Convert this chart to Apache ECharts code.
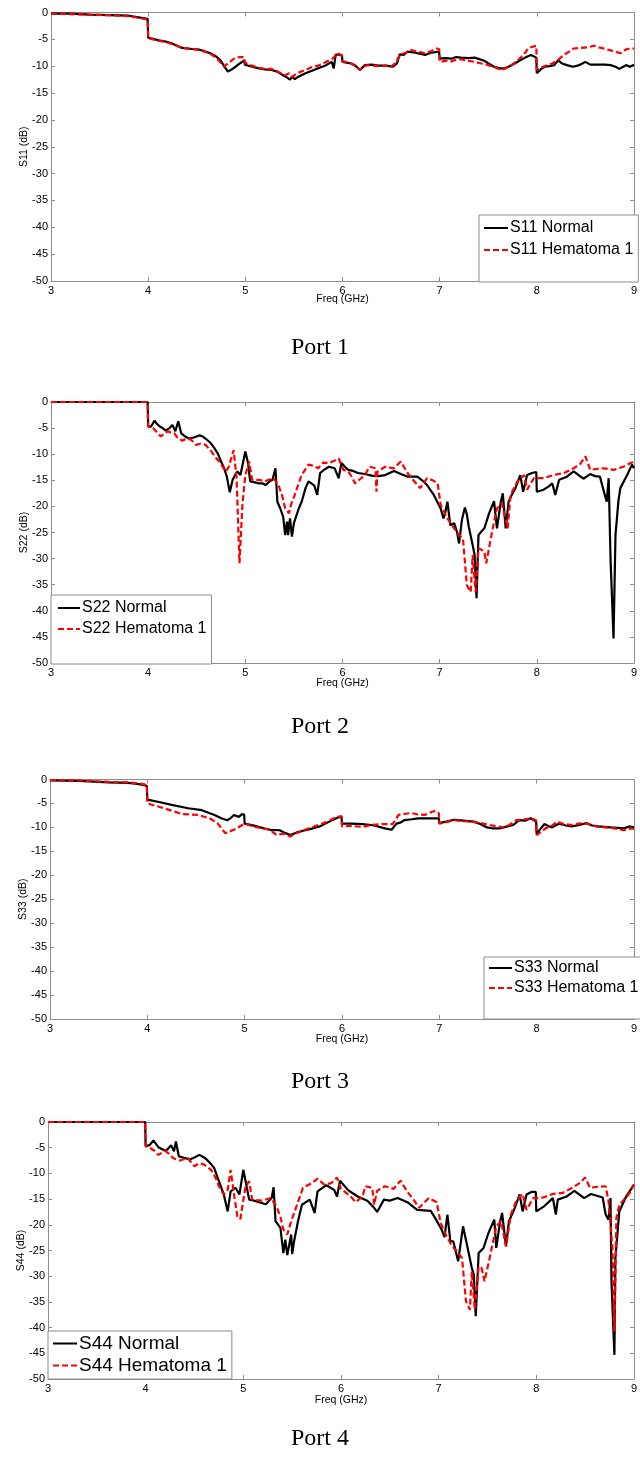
<!DOCTYPE html>
<html>
<head>
<meta charset="utf-8">
<script src="https://cdn.jsdelivr.net/npm/echarts@6/dist/echarts.min.js"></script>
<style>
  html, body { margin: 0; padding: 0; background: #fff; }
  #chart { width: 640px; height: 1458px; }
</style>
</head>
<body>
<div id="chart"></div>
<script>
// Reflection coefficients (dB) versus frequency (GHz), one pair of traces per port.
const freqTicks = [3, 4, 5, 6, 7, 8, 9];
const dbTicks = [-50, -45, -40, -35, -30, -25, -20, -15, -10, -5, 0];
const portCaptions = ['Port 1', 'Port 2', 'Port 3', 'Port 4'];
const paramNames = ['S11', 'S22', 'S33', 'S44'];
const caseNames = ['Normal', 'Hematoma 1'];

const s11Normal = [[3.0,-0.2],[3.2,-0.2],[3.4,-0.4],[3.6,-0.5],[3.8,-0.6],[3.9,-0.9],[3.995,-1.2],[4.0,-4.7],[4.05,-4.9],[4.11,-5.2],[4.18,-5.4],[4.25,-5.8],[4.35,-6.6],[4.45,-6.8],[4.52,-6.9],[4.58,-7.2],[4.64,-7.6],[4.7,-8.2],[4.745,-8.9],[4.79,-10.2],[4.82,-11.0],[4.86,-10.6],[4.9,-10.1],[4.95,-9.4],[4.99,-8.9],[4.995,-9.7],[5.05,-10.0],[5.14,-10.4],[5.2,-10.6],[5.27,-10.7],[5.33,-11.0],[5.38,-11.6],[5.42,-12.0],[5.46,-12.5],[5.48,-12.0],[5.51,-12.4],[5.55,-11.9],[5.62,-11.3],[5.68,-10.9],[5.75,-10.4],[5.82,-9.9],[5.89,-9.2],[5.91,-10.4],[5.93,-7.9],[5.96,-7.8],[5.995,-8.0],[6.0,-9.2],[6.09,-9.5],[6.14,-10.0],[6.18,-10.7],[6.23,-9.8],[6.3,-9.7],[6.37,-9.9],[6.45,-9.9],[6.52,-10.1],[6.56,-9.5],[6.59,-7.8],[6.63,-7.9],[6.67,-7.3],[6.75,-7.5],[6.85,-7.9],[6.91,-7.5],[6.995,-7.3],[7.0,-8.6],[7.06,-8.5],[7.12,-8.6],[7.17,-8.3],[7.22,-8.4],[7.3,-8.5],[7.36,-8.4],[7.46,-9.0],[7.56,-10.1],[7.62,-10.4],[7.67,-10.4],[7.72,-10.0],[7.77,-9.5],[7.83,-8.9],[7.88,-8.4],[7.94,-7.9],[7.995,-8.4],[8.0,-11.3],[8.04,-10.6],[8.08,-10.1],[8.13,-10.0],[8.18,-9.8],[8.22,-8.9],[8.26,-9.5],[8.31,-9.8],[8.37,-10.1],[8.42,-9.9],[8.47,-9.5],[8.5,-9.2],[8.55,-9.7],[8.62,-9.7],[8.7,-9.7],[8.76,-9.8],[8.81,-10.1],[8.85,-10.5],[8.89,-10.1],[8.92,-9.8],[8.96,-10.1],[9.0,-9.7]];
const s11Hematoma = [[3.0,-0.2],[3.2,-0.3],[3.4,-0.4],[3.6,-0.5],[3.8,-0.7],[3.9,-1.0],[3.995,-1.3],[4.0,-4.8],[4.05,-5.0],[4.11,-5.3],[4.18,-5.5],[4.25,-5.9],[4.35,-6.6],[4.45,-6.8],[4.52,-6.9],[4.58,-7.3],[4.64,-7.7],[4.7,-8.4],[4.74,-9.2],[4.78,-10.1],[4.84,-9.2],[4.9,-8.4],[4.95,-8.3],[4.99,-8.3],[4.995,-9.3],[5.05,-9.8],[5.14,-10.3],[5.2,-10.5],[5.27,-10.5],[5.33,-11.0],[5.38,-11.4],[5.41,-11.7],[5.45,-11.3],[5.48,-12.0],[5.51,-11.6],[5.56,-11.1],[5.62,-10.7],[5.68,-10.2],[5.75,-9.9],[5.82,-9.3],[5.89,-8.7],[5.92,-8.2],[5.94,-7.6],[5.99,-7.9],[6.0,-9.1],[6.06,-9.3],[6.13,-9.8],[6.18,-10.7],[6.22,-10.0],[6.27,-9.8],[6.37,-10.0],[6.44,-9.9],[6.5,-10.1],[6.55,-9.3],[6.59,-7.9],[6.65,-7.5],[6.71,-7.0],[6.78,-7.3],[6.85,-7.6],[6.91,-7.2],[6.97,-6.7],[6.995,-6.8],[7.0,-9.2],[7.06,-9.0],[7.12,-9.1],[7.17,-8.8],[7.22,-8.7],[7.3,-9.0],[7.36,-9.2],[7.43,-9.5],[7.5,-9.8],[7.57,-10.2],[7.63,-10.7],[7.68,-10.4],[7.74,-9.8],[7.8,-9.0],[7.84,-8.3],[7.88,-7.5],[7.91,-6.7],[7.95,-6.4],[7.995,-6.2],[8.0,-10.7],[8.05,-10.2],[8.11,-9.8],[8.16,-9.5],[8.21,-9.0],[8.27,-8.0],[8.33,-7.3],[8.38,-6.7],[8.45,-6.6],[8.52,-6.5],[8.59,-6.2],[8.64,-6.5],[8.69,-6.7],[8.75,-7.0],[8.81,-7.3],[8.86,-7.6],[8.9,-7.1],[8.93,-6.8],[9.0,-6.7]];

const s22Normal = [[3.0,0],[3.995,0],[4.0,-4.7],[4.03,-4.7],[4.065,-3.6],[4.09,-4.2],[4.12,-4.7],[4.15,-5.0],[4.18,-5.5],[4.22,-5.0],[4.25,-4.4],[4.28,-5.6],[4.31,-3.7],[4.34,-6.0],[4.38,-6.6],[4.42,-7.0],[4.47,-6.8],[4.53,-6.4],[4.56,-6.6],[4.59,-7.0],[4.64,-7.8],[4.68,-8.8],[4.72,-10.0],[4.75,-11.4],[4.78,-12.6],[4.81,-14.3],[4.84,-17.3],[4.87,-14.9],[4.9,-13.8],[4.92,-13.3],[4.95,-14.0],[4.97,-14.3],[5.0,-9.5],[5.02,-11.0],[5.03,-12.0],[5.05,-15.2],[5.1,-15.4],[5.14,-15.6],[5.18,-15.6],[5.21,-15.9],[5.25,-15.2],[5.28,-14.9],[5.31,-12.7],[5.33,-19.1],[5.36,-20.4],[5.39,-22.0],[5.41,-25.5],[5.43,-22.9],[5.44,-25.5],[5.46,-22.3],[5.48,-25.8],[5.5,-23.2],[5.52,-23.5],[5.55,-20.4],[5.58,-19.1],[5.62,-16.5],[5.65,-15.2],[5.68,-15.6],[5.71,-16.0],[5.74,-17.8],[5.77,-13.6],[5.81,-13.0],[5.86,-12.4],[5.92,-12.7],[5.96,-14.6],[5.99,-11.7],[6.03,-12.5],[6.06,-13.0],[6.11,-13.2],[6.16,-13.6],[6.23,-13.8],[6.3,-14.1],[6.37,-14.2],[6.44,-14.0],[6.53,-13.2],[6.6,-13.8],[6.67,-14.3],[6.77,-14.3],[6.82,-15.0],[6.87,-15.9],[6.94,-17.8],[7.01,-20.4],[7.04,-22.3],[7.06,-21.0],[7.08,-19.1],[7.11,-23.6],[7.15,-23.2],[7.18,-25.0],[7.2,-27.1],[7.23,-22.5],[7.26,-20.2],[7.28,-21.5],[7.3,-23.9],[7.34,-27.4],[7.36,-29.3],[7.38,-37.6],[7.4,-25.5],[7.43,-24.8],[7.46,-24.2],[7.51,-21.3],[7.56,-19.0],[7.59,-24.2],[7.63,-19.1],[7.65,-17.5],[7.68,-24.2],[7.71,-19.1],[7.75,-17.5],[7.78,-16.5],[7.83,-14.0],[7.86,-17.2],[7.9,-14.0],[7.95,-13.6],[7.995,-13.4],[8.0,-17.2],[8.07,-16.8],[8.12,-16.2],[8.16,-15.6],[8.19,-17.8],[8.23,-14.9],[8.31,-14.3],[8.38,-13.3],[8.43,-14.0],[8.48,-14.7],[8.55,-13.8],[8.6,-14.2],[8.65,-14.3],[8.7,-17.8],[8.72,-19.1],[8.74,-14.6],[8.76,-30.6],[8.79,-45.3],[8.81,-25.5],[8.84,-19.0],[8.86,-16.5],[8.93,-14.0],[8.98,-12.0],[9.0,-12.7]];
const s22Hematoma = [[3.0,0],[3.995,0],[4.0,-4.7],[4.05,-5.0],[4.09,-5.8],[4.13,-6.6],[4.17,-6.0],[4.2,-5.6],[4.24,-5.9],[4.27,-6.0],[4.3,-6.8],[4.35,-7.4],[4.4,-7.0],[4.44,-7.2],[4.49,-8.2],[4.54,-8.0],[4.59,-8.2],[4.64,-9.2],[4.69,-10.5],[4.73,-11.4],[4.77,-12.5],[4.8,-13.3],[4.83,-12.4],[4.88,-9.2],[4.91,-14.6],[4.94,-30.9],[4.97,-19.7],[5.0,-14.0],[5.04,-11.4],[5.07,-14.9],[5.14,-14.9],[5.2,-15.2],[5.24,-14.9],[5.29,-14.6],[5.34,-15.9],[5.38,-18.0],[5.41,-20.4],[5.45,-21.3],[5.47,-19.7],[5.52,-17.2],[5.55,-15.5],[5.58,-14.0],[5.65,-12.0],[5.7,-12.2],[5.75,-12.7],[5.8,-11.6],[5.86,-11.7],[5.92,-11.2],[5.96,-10.8],[6.01,-13.0],[6.06,-13.3],[6.1,-14.5],[6.13,-15.6],[6.18,-14.8],[6.23,-14.0],[6.28,-12.4],[6.34,-12.7],[6.35,-17.2],[6.36,-13.3],[6.44,-12.4],[6.53,-12.7],[6.6,-11.4],[6.67,-13.6],[6.73,-15.0],[6.8,-16.5],[6.87,-14.6],[6.93,-15.0],[6.98,-15.6],[7.01,-19.7],[7.08,-22.3],[7.15,-24.2],[7.2,-25.5],[7.24,-26.1],[7.28,-35.1],[7.32,-36.4],[7.34,-29.3],[7.37,-36.4],[7.4,-28.0],[7.43,-28.3],[7.46,-28.7],[7.48,-30.9],[7.52,-26.8],[7.56,-23.0],[7.59,-20.4],[7.64,-19.4],[7.7,-24.2],[7.73,-17.8],[7.8,-15.2],[7.87,-14.0],[7.9,-16.8],[7.97,-14.6],[8.07,-14.6],[8.17,-14.0],[8.28,-13.6],[8.38,-12.7],[8.45,-11.8],[8.5,-10.4],[8.55,-13.0],[8.62,-12.8],[8.69,-12.7],[8.79,-13.0],[8.89,-12.4],[9.0,-11.4]];

const s33Normal = [[3.0,-0.2],[3.3,-0.3],[3.6,-0.6],[3.8,-0.7],[3.9,-0.9],[3.995,-1.3],[4.0,-4.2],[4.12,-4.7],[4.25,-5.3],[4.42,-6.0],[4.56,-6.4],[4.69,-7.4],[4.76,-8.1],[4.82,-8.5],[4.86,-8.0],[4.89,-7.4],[4.94,-7.8],[4.97,-7.3],[4.995,-7.3],[5.0,-9.2],[5.13,-9.8],[5.2,-10.2],[5.26,-10.5],[5.36,-10.6],[5.42,-11.2],[5.47,-11.6],[5.53,-11.1],[5.6,-10.7],[5.68,-10.3],[5.77,-9.8],[5.86,-8.9],[5.94,-8.1],[5.995,-7.7],[6.0,-9.2],[6.1,-9.2],[6.21,-9.3],[6.3,-9.5],[6.37,-9.8],[6.44,-10.2],[6.51,-10.5],[6.56,-9.2],[6.6,-9.0],[6.64,-8.5],[6.72,-8.3],[6.78,-8.1],[6.88,-8.1],[6.995,-8.1],[7.0,-9.1],[7.07,-8.8],[7.15,-8.4],[7.25,-8.6],[7.35,-8.8],[7.42,-9.3],[7.49,-10.0],[7.55,-10.2],[7.62,-10.2],[7.7,-9.8],[7.76,-9.5],[7.82,-8.5],[7.88,-8.6],[7.94,-8.1],[7.995,-8.8],[8.0,-11.3],[8.04,-10.3],[8.08,-9.3],[8.12,-9.7],[8.16,-10.0],[8.23,-9.2],[8.3,-9.6],[8.36,-9.8],[8.44,-9.5],[8.51,-9.1],[8.57,-9.6],[8.63,-9.8],[8.7,-9.9],[8.76,-10.0],[8.83,-10.1],[8.9,-10.2],[8.95,-9.8],[9.0,-10.0]];
const s33Hematoma = [[3.0,-0.1],[3.3,-0.2],[3.6,-0.5],[3.8,-0.6],[3.9,-0.8],[3.995,-1.1],[4.0,-5.0],[4.12,-5.7],[4.25,-6.5],[4.35,-7.2],[4.52,-7.4],[4.64,-8.1],[4.72,-9.1],[4.8,-11.2],[4.89,-10.5],[4.95,-9.8],[5.0,-9.2],[5.07,-9.7],[5.13,-10.0],[5.26,-10.5],[5.33,-11.6],[5.4,-11.3],[5.47,-11.9],[5.53,-11.2],[5.6,-10.6],[5.7,-9.9],[5.8,-9.2],[5.88,-8.5],[5.94,-7.8],[5.995,-7.7],[6.0,-9.8],[6.1,-9.7],[6.21,-9.9],[6.3,-9.5],[6.41,-9.3],[6.52,-9.3],[6.55,-8.5],[6.58,-7.4],[6.64,-7.2],[6.71,-7.0],[6.78,-7.3],[6.85,-7.4],[6.92,-6.8],[6.96,-6.5],[6.995,-7.0],[7.0,-9.2],[7.07,-8.9],[7.15,-8.5],[7.25,-8.7],[7.35,-8.8],[7.45,-9.2],[7.52,-9.5],[7.6,-9.8],[7.66,-10.0],[7.72,-9.5],[7.79,-8.5],[7.85,-8.4],[7.94,-8.1],[7.995,-8.5],[8.0,-11.6],[8.05,-10.9],[8.09,-10.2],[8.15,-9.8],[8.21,-8.8],[8.28,-9.3],[8.36,-9.5],[8.43,-9.2],[8.5,-9.1],[8.57,-9.5],[8.63,-9.9],[8.7,-10.0],[8.8,-10.2],[8.9,-10.6],[8.97,-10.2],[9.0,-10.3]];

const s44Normal = [[3.0,0],[3.995,0],[4.0,-4.7],[4.04,-4.5],[4.08,-3.6],[4.13,-4.9],[4.17,-5.3],[4.2,-5.6],[4.23,-5.2],[4.26,-4.5],[4.29,-5.7],[4.31,-3.8],[4.34,-6.7],[4.4,-7.0],[4.45,-7.3],[4.5,-6.9],[4.55,-6.4],[4.59,-6.8],[4.62,-7.2],[4.66,-8.0],[4.7,-8.9],[4.75,-11.5],[4.8,-14.1],[4.84,-17.4],[4.87,-13.5],[4.92,-12.8],[4.96,-14.1],[5.0,-9.3],[5.02,-11.2],[5.06,-15.1],[5.11,-15.3],[5.16,-15.6],[5.23,-16.0],[5.29,-14.8],[5.31,-12.7],[5.33,-19.3],[5.38,-20.6],[5.41,-25.5],[5.43,-22.9],[5.45,-25.9],[5.46,-25.7],[5.49,-21.9],[5.5,-25.7],[5.52,-23.2],[5.56,-19.3],[5.6,-16.1],[5.68,-15.1],[5.73,-17.7],[5.76,-13.5],[5.85,-12.3],[5.93,-13.2],[5.96,-14.5],[5.99,-11.4],[6.07,-13.2],[6.17,-14.5],[6.27,-15.3],[6.34,-16.7],[6.37,-17.5],[6.44,-15.1],[6.5,-15.3],[6.58,-14.8],[6.68,-15.6],[6.78,-17.1],[6.92,-17.3],[6.98,-19.2],[7.03,-20.9],[7.06,-22.4],[7.09,-18.0],[7.12,-23.2],[7.15,-23.2],[7.2,-27.1],[7.25,-20.3],[7.29,-23.9],[7.34,-28.4],[7.36,-29.7],[7.38,-37.8],[7.41,-25.5],[7.46,-24.5],[7.51,-21.6],[7.57,-19.0],[7.59,-24.5],[7.63,-19.3],[7.65,-17.7],[7.69,-24.2],[7.72,-19.3],[7.78,-16.7],[7.83,-14.1],[7.86,-17.4],[7.9,-14.1],[7.95,-13.6],[7.995,-13.6],[8.0,-17.4],[8.08,-16.4],[8.17,-14.8],[8.2,-18.0],[8.22,-15.1],[8.31,-14.5],[8.39,-13.4],[8.49,-14.8],[8.56,-14.0],[8.68,-14.7],[8.71,-18.0],[8.74,-19.0],[8.76,-14.8],[8.77,-31.0],[8.8,-45.3],[8.81,-26.5],[8.85,-17.4],[8.92,-14.5],[9.0,-12.2]];
const s44Hematoma = [[3.0,0],[3.995,0],[4.0,-4.7],[4.05,-5.1],[4.09,-5.6],[4.13,-6.4],[4.2,-5.6],[4.24,-6.2],[4.28,-7.0],[4.35,-7.5],[4.43,-7.0],[4.5,-8.6],[4.55,-8.0],[4.6,-8.3],[4.67,-9.3],[4.72,-11.0],[4.75,-12.5],[4.8,-14.1],[4.84,-13.2],[4.87,-9.3],[4.91,-14.8],[4.94,-18.4],[4.97,-18.9],[4.99,-18.7],[5.02,-12.8],[5.06,-11.5],[5.09,-15.1],[5.19,-15.3],[5.28,-14.8],[5.34,-16.4],[5.38,-18.5],[5.41,-20.9],[5.45,-21.9],[5.49,-19.3],[5.55,-16.1],[5.61,-12.8],[5.7,-11.9],[5.76,-11.0],[5.83,-12.2],[5.9,-11.9],[5.96,-10.8],[6.0,-13.0],[6.1,-14.5],[6.15,-15.6],[6.22,-14.5],[6.25,-12.5],[6.32,-12.8],[6.34,-16.1],[6.37,-13.4],[6.45,-12.5],[6.54,-13.0],[6.61,-11.4],[6.68,-13.6],[6.74,-15.0],[6.8,-16.7],[6.9,-14.8],[6.98,-15.6],[7.02,-19.6],[7.08,-22.2],[7.14,-24.2],[7.19,-25.2],[7.24,-26.5],[7.28,-34.9],[7.32,-36.5],[7.34,-29.1],[7.37,-36.5],[7.41,-28.1],[7.44,-28.4],[7.47,-31.0],[7.53,-25.8],[7.59,-20.3],[7.64,-19.3],[7.69,-24.2],[7.74,-18.0],[7.8,-15.1],[7.86,-14.0],[7.9,-17.1],[7.97,-14.8],[8.07,-14.7],[8.17,-14.0],[8.27,-13.8],[8.37,-12.8],[8.45,-11.8],[8.5,-10.8],[8.55,-12.8],[8.63,-12.6],[8.71,-12.5],[8.74,-15.4],[8.78,-24.5],[8.8,-40.7],[8.82,-18.7],[8.85,-16.1],[8.95,-14.0],[9.0,-12.2]];

const normalTraces = [s11Normal, s22Normal, s33Normal, s44Normal];
const hematomaTraces = [s11Hematoma, s22Hematoma, s33Hematoma, s44Hematoma];

// Panel placement (pixels) and legend boxes.
const layout = [
  { grid: { left: 51, top: 12.5, width: 586, height: 268.5 }, xNameGap: 13,
    legend: { left: 479, top: 215, padding: [5, 5, 24, 4], itemGap: 6, fontSize: 16, itemWidth: 24 },
    captionY: 349 },
  { grid: { left: 51, top: 402, width: 586, height: 261 }, xNameGap: 15,
    legend: { left: 51, top: 595, padding: [5, 5, 27, 6], itemGap: 5, fontSize: 16, itemWidth: 22 },
    captionY: 728 },
  { grid: { left: 50, top: 779.5, width: 594, height: 239.5 }, xNameGap: 15,
    legend: { left: 484, top: 957, padding: [3, 6, 23, 4], itemGap: 4, fontSize: 16, itemWidth: 23 },
    captionY: 1083 },
  { grid: { left: 48, top: 1122, width: 590, height: 257 }, xNameGap: 16,
    legend: { left: 48, top: 1331, padding: [3, 5, 4, 4], itemGap: 3, fontSize: 19, itemWidth: 24 },
    captionY: 1440 }
];

const axisGray = '#8c8c8c';
const sansFont = '"Liberation Sans", Arial, sans-serif';

const grids = [], xAxes = [], yAxes = [], series = [], legends = [], graphics = [];

layout.forEach((p, i) => {
  grids.push(Object.assign({ containLabel: false }, p.grid));
  const tick = { show: true, inside: true, length: 4, lineStyle: { color: axisGray } };
  const line = { show: true, onZero: false, lineStyle: { color: axisGray, width: 1 } };
  const xBase = { type: 'value', gridIndex: i, min: freqTicks[0], max: freqTicks[freqTicks.length - 1],
    interval: freqTicks[1] - freqTicks[0], splitLine: { show: false }, axisLine: line, axisTick: tick };
  const yBase = { type: 'value', gridIndex: i, min: dbTicks[0], max: dbTicks[dbTicks.length - 1],
    interval: dbTicks[1] - dbTicks[0], splitLine: { show: false }, axisLine: line, axisTick: tick };

  xAxes.push(Object.assign({}, xBase, {
    position: 'bottom',
    axisLabel: { color: '#000', fontSize: 11, fontFamily: sansFont, margin: 4, showMaxLabel: true, showMinLabel: true },
    name: 'Freq (GHz)', nameLocation: 'middle', nameGap: p.xNameGap, nameMoveOverlap: false,
    nameTextStyle: { color: '#000', fontSize: 10.5, fontFamily: sansFont }
  }));
  xAxes.push(Object.assign({}, xBase, { position: 'top', axisLabel: { show: false } }));

  yAxes.push(Object.assign({}, yBase, {
    position: 'left',
    axisLabel: { color: '#000', fontSize: 11, fontFamily: sansFont, margin: 3 },
    name: paramNames[i] + ' (dB)', nameLocation: 'middle', nameGap: 21, nameMoveOverlap: false,
    nameTextStyle: { color: '#000', fontSize: 10.5, fontFamily: sansFont }
  }));
  yAxes.push(Object.assign({}, yBase, { position: 'right', axisLabel: { show: false } }));

  const nName = paramNames[i] + ' ' + caseNames[0];
  const hName = paramNames[i] + ' ' + caseNames[1];
  series.push({
    name: nName, type: 'line', xAxisIndex: 2 * i, yAxisIndex: 2 * i,
    data: normalTraces[i], showSymbol: false, symbol: 'none', animation: false, clip: true,
    lineStyle: { color: '#000', width: 2.2, type: 'solid' }, itemStyle: { color: '#000' }, z: 2
  });
  series.push({
    name: hName, type: 'line', xAxisIndex: 2 * i, yAxisIndex: 2 * i,
    data: hematomaTraces[i], showSymbol: false, symbol: 'none', animation: false, clip: true,
    lineStyle: { color: '#ff0000', width: 2.2, type: [6, 3] }, itemStyle: { color: '#ff0000' }, z: 3
  });

  const L = p.legend;
  legends.push({
    data: [nName, hName], orient: 'vertical', left: L.left, top: L.top,
    padding: L.padding, itemGap: L.itemGap, itemWidth: L.itemWidth, itemHeight: 14,
    backgroundColor: '#fff', borderColor: axisGray, borderWidth: 1, borderRadius: 0,
    selectedMode: false, z: 10,
    // keep only the line sample in each legend row
    itemStyle: { opacity: 0, borderWidth: 0 },
    textStyle: { color: '#000', fontSize: L.fontSize, fontFamily: sansFont, padding: [0, 0, 0, -3] }
  });

  graphics.push({
    type: 'text', left: 'center', top: p.captionY - 13,
    style: { text: portCaptions[i], fill: '#000', font: '24px "Liberation Serif", "Times New Roman", serif' }
  });
});

const chart = echarts.init(document.getElementById('chart'), null, { renderer: 'canvas' });
chart.setOption({
  animation: false,
  backgroundColor: '#fff',
  grid: grids,
  xAxis: xAxes,
  yAxis: yAxes,
  legend: legends,
  series: series,
  graphic: graphics
});
</script>
</body>
</html>
